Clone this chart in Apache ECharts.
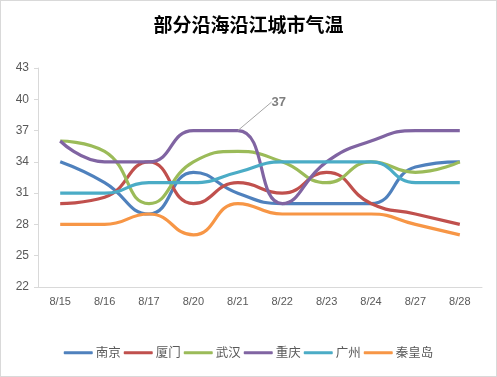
<!DOCTYPE html>
<html><head><meta charset="utf-8">
<script src="https://cdn.jsdelivr.net/npm/echarts@6/dist/echarts.min.js"></script>
<style>
html,body{margin:0;padding:0;background:#fff;}
#c{width:495px;height:375px;border:1px solid #d9d9d9;}
</style></head>
<body><div id="c"></div>
<script>
const categories = ['8/15','8/16','8/17','8/20','8/21','8/22','8/23','8/24','8/27','8/28'];
const nanjing   = [34, 32, 29, 33, 31, 30, 30, 30, 33.5, 34];
const xiamen    = [30, 30.6, 34, 30, 32, 31, 33, 30, 29, 28];
const wuhan     = [36, 35, 30, 34, 35, 34, 32, 34, 33, 34];
const chongqing = [36, 34, 34, 37, 37, 30, 34, 36, 37, 37];
const guangzhou = [31, 31, 32, 32, 33, 34, 34, 34, 32, 32];
const qinhuangdao = [28, 28, 29, 27, 30, 29, 29, 29, 28, 27];
const seriesNames = ['南京','厦门','武汉','重庆','广州','秦皇岛'];
const seriesData = [nanjing, xiamen, wuhan, chongqing, guangzhou, qinhuangdao];
const colors = ['#4F81BD','#C0504D','#9BBB59','#8064A2','#4BACC6','#F79646'];
const labelSeries = 3, labelIndex = 4; // 重庆 at 8/21

const chart = echarts.init(document.getElementById('c'), null, {renderer:'canvas'});
const series = seriesNames.map((n, i) => {
  const data = seriesData[i].map((v, j) => {
    if (i === labelSeries && j === labelIndex) {
      return {
        value: v,
        label: {show: true, formatter: '{c}', position: 'top', color: '#7f7f7f', fontWeight: 'bold', fontSize: 13, fontFamily: 'Arial, Liberation Sans, sans-serif'},
        labelLine: {show: true, lineStyle: {color: '#a6a6a6', width: 1}}
      };
    }
    return v;
  });
  const s = {
    name: n, type: 'line', data: data, smooth: 0.5,
    symbol: 'circle', symbolSize: 0, showSymbol: true,
    lineStyle: {width: 3.2, color: colors[i]},
    itemStyle: {color: colors[i]},
    z: 2 + i
  };
  if (i === labelSeries) {
    s.labelLayout = (p) => p.dataIndex === labelIndex ? {dx: 41, dy: -17} : {};
  }
  return s;
});

chart.setOption({
  animation: false,
  title: {
    text: '部分沿海沿江城市气温', left: 'center', top: 9,
    textStyle: {fontSize: 19, fontWeight: 'bold', color: '#000', fontFamily: 'Noto Sans CJK SC'}
  },
  legend: {
    bottom: 12, left: 'center', itemWidth: 29, itemHeight: 3, itemGap: 3,
    icon: 'roundRect',
    textStyle: {fontSize: 12.5, color: '#595959', fontFamily: 'Noto Sans CJK SC', padding: [0,0,0,-2]},
    data: seriesNames
  },
  grid: {left: 37, right: 14, top: 67, bottom: 89, containLabel: false},
  xAxis: {
    type: 'category', data: categories, boundaryGap: true,
    axisLine: {lineStyle: {color: '#d9d9d9', width: 1}},
    axisTick: {show: false},
    axisLabel: {color: '#595959', fontSize: 11, margin: 9, fontFamily: 'Arial, Liberation Sans, sans-serif'}
  },
  yAxis: {
    type: 'value', min: 22, max: 43, interval: 3,
    axisLine: {show: true, lineStyle: {color: '#d9d9d9', width: 1}},
    axisTick: {show: true, length: 4, lineStyle: {color: '#d9d9d9'}},
    splitLine: {show: false},
    axisLabel: {color: '#595959', fontSize: 12, margin: 9, fontFamily: 'Arial, Liberation Sans, sans-serif'}
  },
  series: series
});
</script></body></html>
